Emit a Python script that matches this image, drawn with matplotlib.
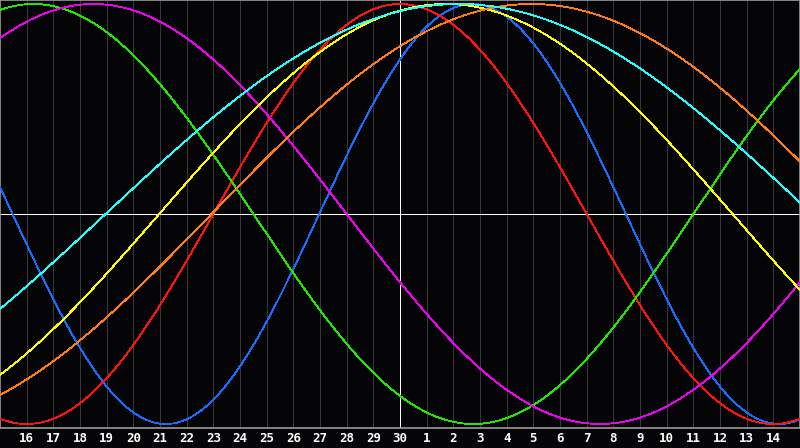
import numpy as np
import matplotlib
matplotlib.use("Agg")
import matplotlib.pyplot as plt

# Day labels, one per day from 15 days before today to 14 days after (today = 30)
day_offsets = list(range(-14, 15))
day_labels = ["16", "17", "18", "19", "20", "21", "22", "23", "24", "25", "26", "27", "28", "29",
              "30", "1", "2", "3", "4", "5", "6", "7", "8", "9", "10", "11", "12", "13", "14"]

# Cycle lengths (days) and position in the cycle on "today" (days)
periods = [23, 28, 33, 38, 43, 48, 53]
phase_today = [3.03, 7.0, 22.0, 21.0, 9.03, 7.07, 11.04]
colors = ["#1a6cff", "#ff1414", "#22e800", "#f000f0", "#ffff00", "#ff7d14", "#22ffff"]

PX = 72 / 100  # one pixel in points

fig = plt.figure(figsize=(8.0, 4.48), dpi=100, facecolor="#050508")
ax = fig.add_axes([0, 20 / 448, 1, 428 / 448])
ax.set_facecolor("#050508")
ax.set_xlim(-15, 15)
ax.set_ylim(-1.019, 1.019)

for d in day_offsets:
    if d != 0:
        ax.axvline(d, color="#383838", lw=PX, antialiased=False, zorder=1)
ax.axvline(0, color="white", lw=PX, antialiased=False, zorder=2)
ax.axhline(0, color="white", lw=PX, antialiased=False, zorder=2)

t = np.linspace(-15, 15, 1201)
for P, ph, c in zip(periods, phase_today, colors):
    ax.plot(t, np.sin(2 * np.pi * (t + ph) / P), color=c, lw=0.6, antialiased=False, zorder=3)

ax.set_xticks(day_offsets)
ax.set_xticklabels(day_labels, color="white", fontsize=9, fontweight="bold",
                   family="DejaVu Sans Mono")
ax.tick_params(axis="x", length=0, pad=3)
ax.set_yticks([])
for s in ax.spines.values():
    s.set_color("#9a9a9a")
    s.set_linewidth(1.2)

fig.savefig("out.png", dpi=100, facecolor=fig.get_facecolor())
